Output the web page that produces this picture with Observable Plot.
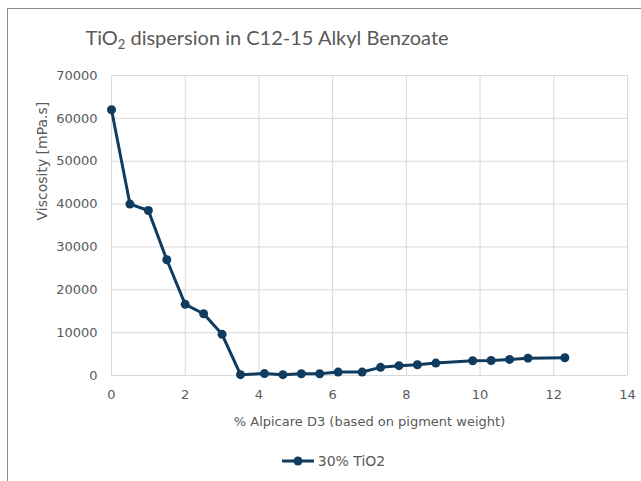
<!DOCTYPE html>
<html>
<head>
<meta charset="utf-8">
<script src="https://cdn.jsdelivr.net/npm/d3@7"></script>
<script src="https://cdn.jsdelivr.net/npm/@observablehq/plot@0.6"></script>
<style>
  html, body { margin: 0; padding: 0; background: #fff; }
  body { width: 641px; height: 481px; position: relative; overflow: hidden; font-family: "DejaVu Sans", sans-serif; color: #595959; }
  #box { position: absolute; left: 7px; top: 8px; width: 700px; height: 600px; border-left: 1.5px solid #8c8c8c; border-top: 1.5px solid #8c8c8c; }
  #title { position: absolute; left: 0; width: 534px; top: 25px; text-align: center; font-family: Lato, sans-serif; font-weight: 400; font-size: 20px; color: #595959; white-space: nowrap; }
  #title sub { font-size: 13px; vertical-align: baseline; position: relative; top: 4px; }
  #chart { position: absolute; left: 0; top: 55px; }
  #legend { position: absolute; left: 0; width: 666px; top: 453px; text-align: center; font-size: 14px; color: #595959; display: flex; justify-content: center; align-items: center; gap: 2px; }
</style>
</head>
<body>
<div id="box"></div>
<div id="title">TiO<sub>2</sub> dispersion in C12-15 Alkyl Benzoate</div>
<div id="chart"></div>
<div id="legend"><svg width="35" height="12"><line x1="1" y1="6" x2="33" y2="6" stroke="#0f3b5f" stroke-width="3"/><circle cx="17" cy="6" r="4.5" fill="#0f3b5f"/></svg><span id="legendText"></span></div>
<script>
const seriesName = "30% TiO2";
const xTitle = "% Alpicare D3 (based on pigment weight)";
const yTitle = "Viscosity [mPa.s]";
const alpicare = [0, 0.5, 1, 1.5, 2, 2.5, 3, 3.5, 4.15, 4.65, 5.15, 5.65, 6.15, 6.8, 7.3, 7.8, 8.3, 8.8, 9.8, 10.3, 10.8, 11.3, 12.3];
const viscosity = [62000, 40000, 38500, 27000, 16600, 14400, 9600, 200, 450, 200, 400, 400, 800, 800, 1900, 2300, 2500, 2900, 3450, 3500, 3750, 4050, 4150];
const xTicks = [0, 2, 4, 6, 8, 10, 12, 14];
const yTicks = [0, 10000, 20000, 30000, 40000, 50000, 60000, 70000];

const data = alpicare.map((x, i) => ({x, y: viscosity[i]}));
const lineColor = "#0f3b5f";

document.getElementById("legendText").textContent = seriesName;

const chart = Plot.plot({
  width: 641,
  height: 385,
  marginLeft: 111,
  marginRight: 14,
  marginTop: 20,
  marginBottom: 65,
  style: { fontFamily: "DejaVu Sans, sans-serif", fontSize: "13px", color: "#595959", background: "transparent" },
  x: { domain: [0, 14], ticks: xTicks, tickFormat: d => String(d) },
  y: { domain: [0, 70000], ticks: yTicks, tickFormat: d => String(d) },
  marks: [
    Plot.gridX(xTicks, { stroke: "#d9d9d9", strokeOpacity: 1, strokeWidth: 1 }),
    Plot.gridY(yTicks, { stroke: "#d9d9d9", strokeOpacity: 1, strokeWidth: 1 }),
    Plot.axisX(xTicks, { tickSize: 0, tickPadding: 14, label: null, fill: "#595959", tickFormat: d => String(d) }),
    Plot.axisY(yTicks, { tickSize: 0, tickPadding: 14, label: null, fill: "#595959", tickFormat: d => String(d) }),
    Plot.line(data, { x: "x", y: "y", stroke: lineColor, strokeWidth: 3 }),
    Plot.dot(data, { x: "x", y: "y", r: 4.5, fill: lineColor, stroke: "none" }),
    Plot.text([yTitle], { frameAnchor: "left", dx: -69, dy: -5, rotate: -90, fontSize: 14, fill: "#595959" }),
    Plot.text([xTitle], { frameAnchor: "bottom", dy: 50, fontSize: 13, fill: "#595959" })
  ]
});
document.getElementById("chart").appendChild(chart);
</script>
</body>
</html>
